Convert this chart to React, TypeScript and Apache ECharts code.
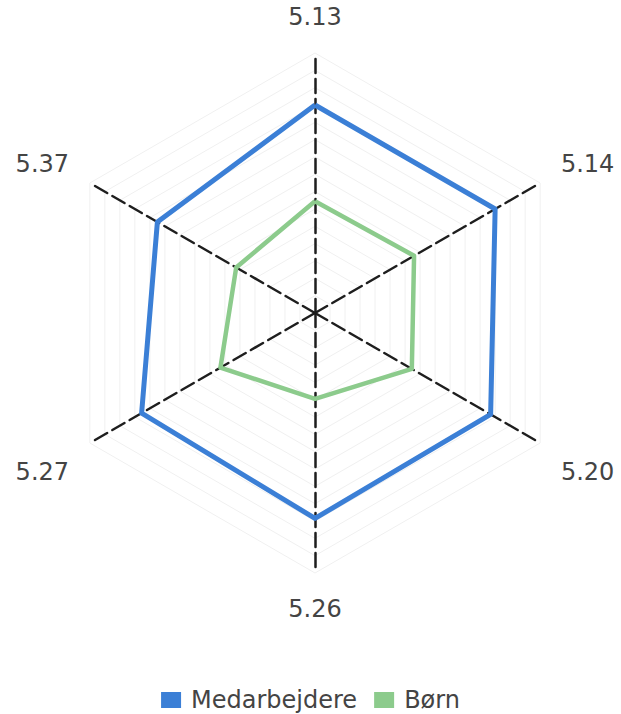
import React, { useEffect, useRef } from "react";
import * as echarts from "echarts";

const indicatorNames = ["5.13", "5.37", "5.27", "5.26", "5.20", "5.14"];
const upperNames = ["5.37", "5.14"];
const lowerNames = ["5.27", "5.20"];
const maxValue = 100;
const medarbejdere = [80, 70, 77, 79, 78, 80];
const boern = [43, 35, 42, 33, 43, 44];
const seriesNames = ["Medarbejdere", "Børn"];

export default function App() {
  const ref = useRef<HTMLDivElement>(null);
  useEffect(() => {
    if (!ref.current) return;
    const chart = echarts.init(ref.current, undefined, { renderer: "svg" });
    const font = "DejaVu Sans";
    chart.setOption({
      animation: false,
      backgroundColor: "#ffffff",
      legend: {
        data: seriesNames,
        top: 683,
        left: "center",
        icon: "rect",
        itemWidth: 20,
        itemHeight: 16,
        itemGap: 17,
        textStyle: { fontFamily: font, fontSize: 24, color: "#444", padding: [0, 0, 0, 5] },
      },
      radar: {
        center: [315, 313],
        radius: 260,
        shape: "polygon",
        splitNumber: 15,
        nameGap: 24,
        indicator: indicatorNames.map((n) => ({ name: n, max: maxValue, min: 0 })),
        axisName: {
          color: "#444",
          fontFamily: font,
          fontSize: 24,
          formatter: (name: string) => {
            if (upperNames.includes(name)) return `{v|${name}}\n{up| }`;
            if (lowerNames.includes(name)) return `{dn| }\n{v|${name}}`;
            return `{v|${name}}`;
          },
          rich: {
            v: { fontFamily: font, fontSize: 24, color: "#444" },
            up: { fontSize: 1, lineHeight: 14 },
            dn: { fontSize: 1, lineHeight: 34 },
          },
        },
        axisLine: {
          lineStyle: { color: "#1e1e1e", width: 2.5, type: [14, 6] },
        },
        splitLine: { lineStyle: { color: "#f0f0f0", width: 1 } },
        splitArea: { show: false },
        axisTick: { show: false },
        axisLabel: { show: false },
      },
      series: [
        {
          type: "radar",
          name: seriesNames[0],
          symbol: "none",
          itemStyle: { color: "#3b7fd6" },
          lineStyle: { color: "#3b7fd6", width: 5 },
          data: [{ name: seriesNames[0], value: medarbejdere }],
          z: 3,
        },
        {
          type: "radar",
          name: seriesNames[1],
          symbol: "none",
          itemStyle: { color: "#8ccb8c" },
          lineStyle: { color: "#8ccb8c", width: 4.5 },
          data: [{ name: seriesNames[1], value: boern }],
          z: 2,
        },
      ],
    });
    return () => chart.dispose();
  }, []);
  return (
    <div
      ref={ref}
      style={{ position: "fixed", left: 0, top: 0, width: 621, height: 714 }}
    />
  );
}
